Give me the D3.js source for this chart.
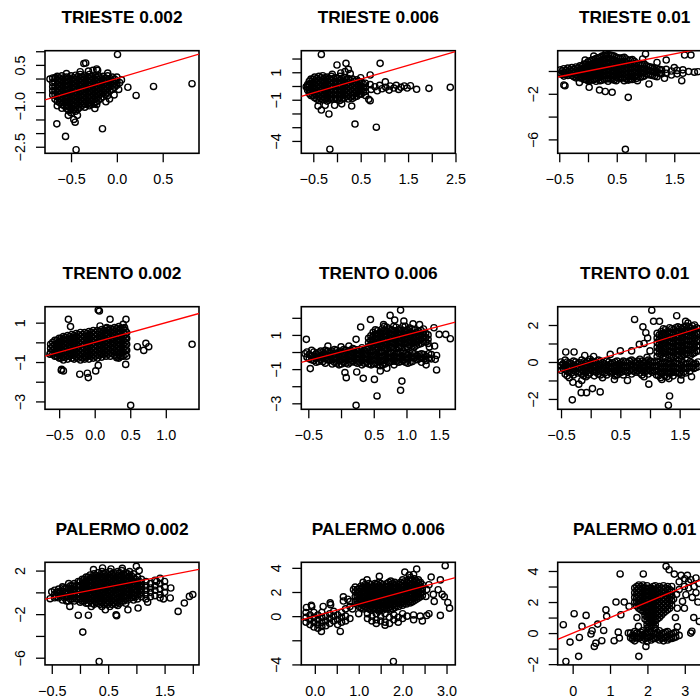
<!DOCTYPE html>
<html lang="en">
<head>
<meta charset="UTF-8">
<title>Scatter grid</title>
<script src="https://d3js.org/d3.v7.min.js"></script>
<style>
  body { margin: 0; background: #fff; }
  svg text { font-family: "Liberation Sans", Arial, Helvetica, sans-serif; fill: #000; }
</style>
</head>
<body>
<svg id="chart" width="700" height="698"></svg>
<script>
// panel titles, row by row
const titles = ["TRIESTE 0.002", "TRIESTE 0.006", "TRIESTE 0.01",
                "TRENTO 0.002", "TRENTO 0.006", "TRENTO 0.01",
                "PALERMO 0.002", "PALERMO 0.006", "PALERMO 0.01"];

// axis ranges
const xRanges = [[-0.784, 0.896], [-0.753, 2.496], [-0.527, 2.151],
                 [-0.699, 1.467], [-0.607, 1.746], [-0.556, 2.04],
                 [-0.62, 2.11], [-0.308, 3.20], [-0.40, 3.72]];
const yRanges = [[-2.74, 1.02], [-4.9, 2.57], [-7.22, 1.78],
                 [-3.40, 1.81], [-3.35, 2.65], [-2.56, 2.99],
                 [-6.66, 2.76], [-4.04, 4.46], [-2.05, 4.56]];

// ticks; "" = tick without a label
const xTicks = [[-0.5, 0, 0.5], [-0.5, 0, 0.5, 1, 1.5, 2, 2.5], [-0.5, 0, 0.5, 1, 1.5, 2],
                [-0.5, 0, 0.5, 1], [-0.5, 0, 0.5, 1, 1.5], [-0.5, 0, 0.5, 1, 1.5, 2],
                [-0.5, 0, 0.5, 1, 1.5, 2], [0, 0.5, 1, 1.5, 2, 2.5, 3], [0, 1, 2, 3]];
const xTickLabels = [["−0.5", "0.0", "0.5"], ["−0.5", "", "0.5", "", "1.5", "", "2.5"], ["−0.5", "", "0.5", "", "1.5", ""],
                     ["−0.5", "0.0", "0.5", "1.0"], ["−0.5", "", "0.5", "1.0", "1.5"], ["−0.5", "", "0.5", "", "1.5", ""],
                     ["−0.5", "", "0.5", "", "1.5", ""], ["0.0", "", "1.0", "", "2.0", "", "3.0"], ["0", "1", "2", "3"]];
const yTicks = [[1, 0.5, 0, -0.5, -1, -1.5, -2, -2.5], [2, 1, 0, -1, -2, -3, -4], [0, -2, -4, -6],
                [1, 0, -1, -2, -3], [2, 1, 0, -1, -2, -3], [2, 1, 0, -1, -2],
                [2, 0, -2, -4, -6], [4, 2, 0, -2, -4], [4, 3, 2, 1, 0, -1, -2]];
const yTickLabels = [["", "0.5", "", "", "−1.0", "", "", "−2.5"], ["", "1", "", "−1", "", "", "−4"], ["", "−2", "", "−6"],
                     ["1", "", "−1", "", "−3"], ["", "1", "", "−1", "", "−3"], ["2", "", "0", "", "−2"],
                     ["2", "", "−2", "", "−6"], ["4", "2", "0", "", "−4"], ["4", "", "2", "", "0", "", "−2"]];

// reference line y = a + b x
const ablineA = 0, ablineB = 1;

// points: dense parts as [x, [y...]] columns (two staggered sets), the rest as [x, y]
const trieste002Cols = [
  [-0.70, [0.02, -0.15, -0.3, -0.45, -0.6]],
  [-0.65, [0.08, -0.07, -0.22, -0.38, -0.52, -0.68, -0.83]],
  [-0.60, [0.1, -0.05, -0.2, -0.35, -0.5, -0.65, -0.8, -0.95]],
  [-0.55, [0.05, -0.1, -0.25, -0.4, -0.55, -0.7, -0.85, -1.0, -1.1]],
  [-0.50, [0.1, -0.05, -0.2, -0.35, -0.5, -0.65, -0.8, -0.95, -1.1, -1.25]],
  [-0.45, [0.12, -0.03, -0.18, -0.33, -0.48, -0.63, -0.78, -0.93, -1.08, -1.2]],
  [-0.40, [0.15, 0.0, -0.15, -0.3, -0.45, -0.6, -0.75, -0.9, -1.05]],
  [-0.35, [0.12, -0.03, -0.18, -0.33, -0.48, -0.63, -0.78, -0.93, -1.05]],
  [-0.30, [0.15, 0.0, -0.15, -0.3, -0.45, -0.6, -0.75, -0.9, -1.0]],
  [-0.25, [0.12, -0.03, -0.18, -0.33, -0.48, -0.63, -0.78, -0.93]],
  [-0.20, [0.1, -0.05, -0.2, -0.35, -0.5, -0.65, -0.8]],
  [-0.15, [0.08, -0.07, -0.22, -0.37, -0.52, -0.67]],
  [-0.10, [0.1, -0.05, -0.2, -0.35, -0.5, -0.62]],
  [-0.05, [0.05, -0.1, -0.25, -0.4]],
  [0.00, [0.05, -0.1, -0.25]]
];
const trieste002Fill = [
  [-0.675, [0.0, -0.15, -0.3, -0.45, -0.6, -0.75]],
  [-0.625, [0.02, -0.13, -0.28, -0.43, -0.58, -0.73, -0.88]],
  [-0.575, [0.03, -0.12, -0.27, -0.42, -0.57, -0.72, -0.87, -1.0]],
  [-0.525, [0.02, -0.13, -0.28, -0.43, -0.58, -0.73, -0.88, -1.03, -1.18]],
  [-0.475, [0.03, -0.12, -0.27, -0.42, -0.57, -0.72, -0.87, -1.02, -1.15]],
  [-0.425, [0.07, -0.08, -0.23, -0.38, -0.53, -0.68, -0.83, -0.98, -1.12]],
  [-0.375, [0.07, -0.08, -0.23, -0.38, -0.53, -0.68, -0.83, -0.98]],
  [-0.325, [0.07, -0.08, -0.23, -0.38, -0.53, -0.68, -0.83, -0.95]],
  [-0.275, [0.07, -0.08, -0.23, -0.38, -0.53, -0.68, -0.83, -0.95]],
  [-0.225, [0.05, -0.1, -0.25, -0.4, -0.55, -0.7, -0.85]],
  [-0.175, [0.03, -0.12, -0.27, -0.42, -0.57, -0.72]],
  [-0.125, [0.02, -0.13, -0.28, -0.43, -0.58]],
  [-0.075, [0.0, -0.15, -0.3, -0.45]],
  [-0.025, [-0.02, -0.17, -0.32]]
];
const trieste002Pts = [
  [0.007, 0.88], [-0.36, 0.55], [-0.34, 0.57], [-0.31, 0.27], [-0.22, 0.35], [-0.21, 0.3], [-0.26, 0.3],
  [-0.73, -0.02], [-0.67, 0.04], [0.12, -0.32], [0.21, -0.62], [0.40, -0.29], [0.82, -0.19],
  [-0.655, -1.66], [-0.56, -2.12], [-0.445, -2.61], [-0.157, -1.84], [-0.6, -1.09], [-0.455, -1.6],
  [-0.47, -1.5], [-0.43, -1.35], [-0.53, -1.35], [-0.24, -1.1], [-0.22, -0.95], [-0.12, -0.85],
  [-0.08, -0.75], [-0.03, -0.6], [0.02, -0.4], [0.03, -0.15], [0.05, -0.05], [-0.65, -1.0],
  [-0.1, 0.2], [-0.4, 0.25], [-0.55, 0.18]
];

const trieste006Cols = [
  [-0.62, [0.1, -0.1, -0.3]],
  [-0.55, [0.5, 0.2, -0.1, -0.4, -0.7]],
  [-0.47, [0.65, 0.35, 0.05, -0.25, -0.55, -0.85]],
  [-0.38, [0.7, 0.4, 0.1, -0.2, -0.5, -0.8, -1.05]],
  [-0.30, [0.75, 0.45, 0.15, -0.15, -0.45, -0.75, -1.0]],
  [-0.21, [0.65, 0.35, 0.05, -0.25, -0.55, -0.85, -1.1]],
  [-0.12, [0.7, 0.4, 0.1, -0.2, -0.5, -0.8, -1.0]],
  [-0.03, [0.6, 0.3, 0.0, -0.3, -0.6, -0.9]],
  [0.06, [0.7, 0.4, 0.1, -0.2, -0.5, -0.8, -1.05]],
  [0.15, [0.6, 0.3, 0.0, -0.3, -0.6, -0.9]],
  [0.24, [0.55, 0.25, -0.05, -0.35, -0.65, -0.95]],
  [0.33, [0.5, 0.2, -0.1, -0.4, -0.7, -0.9]],
  [0.42, [0.45, 0.15, -0.15, -0.45, -0.75]],
  [0.51, [0.3, 0.0, -0.3, -0.6]],
  [0.60, [0.2, -0.1, -0.4, -0.7]]
];
const trieste006Fill = [
  [-0.585, [0.35, 0.05, -0.25, -0.55]],
  [-0.51, [0.5, 0.2, -0.1, -0.4, -0.7]],
  [-0.425, [0.55, 0.25, -0.05, -0.35, -0.65, -0.95]],
  [-0.34, [0.6, 0.3, 0.0, -0.3, -0.6, -0.9]],
  [-0.255, [0.6, 0.3, 0.0, -0.3, -0.6, -0.9]],
  [-0.165, [0.55, 0.25, -0.05, -0.35, -0.65, -0.95]],
  [-0.075, [0.55, 0.25, -0.05, -0.35, -0.65, -0.95]],
  [0.015, [0.55, 0.25, -0.05, -0.35, -0.65, -0.95]],
  [0.105, [0.55, 0.25, -0.05, -0.35, -0.65, -0.95]],
  [0.195, [0.45, 0.15, -0.15, -0.45, -0.75]],
  [0.285, [0.4, 0.1, -0.2, -0.5, -0.8]],
  [0.375, [0.35, 0.05, -0.25, -0.55, -0.8]],
  [0.465, [0.3, 0.0, -0.3, -0.6]],
  [0.555, [0.15, -0.15, -0.45]]
];
const trieste006Pts = [
  [0.7, 0.1], [0.72, -0.25], [0.8, -0.05], [0.85, -0.35], [0.9, 0.05], [0.95, -0.2], [1.02, 0.3], [1.03, -0.1],
  [1.1, -0.3], [1.12, 0.0], [1.2, -0.15], [1.25, 0.05], [1.3, -0.25], [1.35, -0.1], [1.42, 0.0], [1.48, -0.15],
  [1.55, 0.02], [1.68, -0.24], [1.94, -0.17], [2.39, -0.1],
  [-0.33, 2.3], [0.0, 1.53], [0.19, 1.65], [0.24, 1.21], [0.91, 1.65], [0.7, 0.8], [0.17, 1.05], [0.08, 0.95],
  [-0.1, 0.85], [-0.4, -1.46], [-0.33, -1.75], [-0.17, -2.04], [-0.15, -4.6], [0.38, -2.77], [0.83, -3.0],
  [0.31, -1.46], [0.67, -0.97], [0.7, -1.07], [-0.05, -1.4], [0.1, -1.3], [-0.25, -1.4], [-0.65, -0.05],
  [0.5, 0.6], [0.28, 0.9]
];

const trieste01Cols = [
  [-0.48, [0.1, -0.25]],
  [-0.42, [0.2, -0.15, -0.45]],
  [-0.35, [0.25, -0.1, -0.4]],
  [-0.28, [0.3, -0.05, -0.4]],
  [-0.21, [0.35, 0.0, -0.35, -0.6]],
  [-0.14, [0.45, 0.1, -0.25, -0.6]],
  [-0.07, [0.6, 0.25, -0.1, -0.45, -0.75]],
  [0.00, [0.8, 0.45, 0.1, -0.25, -0.6, -0.85]],
  [0.07, [0.95, 0.6, 0.25, -0.1, -0.45, -0.8]],
  [0.14, [1.1, 0.75, 0.4, 0.05, -0.3, -0.65, -0.9]],
  [0.21, [1.2, 0.85, 0.5, 0.15, -0.2, -0.55, -0.85]],
  [0.28, [1.35, 1.0, 0.65, 0.3, -0.05, -0.4, -0.75]],
  [0.35, [1.45, 1.1, 0.75, 0.4, 0.05, -0.3, -0.65, -0.9]],
  [0.42, [1.35, 1.0, 0.65, 0.3, -0.05, -0.4, -0.75]],
  [0.49, [1.2, 0.85, 0.5, 0.15, -0.2, -0.55, -0.85]],
  [0.56, [1.1, 0.75, 0.4, 0.05, -0.3, -0.65]],
  [0.63, [1.2, 0.85, 0.5, 0.15, -0.2, -0.55, -0.85]],
  [0.70, [0.9, 0.55, 0.2, -0.15, -0.5, -0.8]],
  [0.77, [1.0, 0.6, 0.25, -0.1, -0.45, -0.75]],
  [0.84, [0.7, 0.35, 0.0, -0.35, -0.65]],
  [0.91, [0.5, 0.15, -0.2, -0.55]],
  [0.98, [0.6, 0.25, -0.1, -0.45]],
  [1.05, [0.4, 0.05, -0.3]],
  [1.12, [0.3, -0.05, -0.4]],
  [1.20, [0.2, -0.15, -0.5]],
  [1.28, [0.1, -0.25]],
  [1.36, [0.15, -0.2]],
  [1.45, [0.0, -0.35]],
  [1.55, [0.05, -0.25]],
  [1.65, [0.1, -0.2]],
  [1.75, [-0.05]]
];
const trieste01Fill = [
  [-0.45, [0.0, -0.3]],
  [-0.385, [0.05, -0.3]],
  [-0.315, [0.1, -0.25]],
  [-0.245, [0.15, -0.2, -0.5]],
  [-0.175, [0.25, -0.1, -0.45]],
  [-0.105, [0.4, 0.05, -0.3, -0.6]],
  [-0.035, [0.6, 0.25, -0.1, -0.45, -0.75]],
  [0.035, [0.9, 0.55, 0.2, -0.15, -0.5, -0.8]],
  [0.105, [1.0, 0.65, 0.3, -0.05, -0.4, -0.75]],
  [0.175, [1.15, 0.8, 0.45, 0.1, -0.25, -0.6]],
  [0.245, [1.3, 0.95, 0.6, 0.25, -0.1, -0.45, -0.8]],
  [0.315, [1.4, 1.05, 0.7, 0.35, 0.0, -0.35, -0.7]],
  [0.385, [1.4, 1.05, 0.7, 0.35, 0.0, -0.35, -0.7]],
  [0.455, [1.3, 0.95, 0.6, 0.25, -0.1, -0.45, -0.8]],
  [0.525, [1.15, 0.8, 0.45, 0.1, -0.25, -0.6]],
  [0.595, [1.15, 0.8, 0.45, 0.1, -0.25, -0.6]],
  [0.665, [1.05, 0.7, 0.35, 0.0, -0.35, -0.7]],
  [0.735, [0.95, 0.6, 0.25, -0.1, -0.45, -0.75]],
  [0.805, [0.85, 0.5, 0.15, -0.2, -0.55]],
  [0.875, [0.6, 0.25, -0.1, -0.45]],
  [0.945, [0.55, 0.2, -0.15, -0.5]],
  [1.015, [0.45, 0.1, -0.25]],
  [1.085, [0.35, 0.0, -0.35]],
  [1.16, [0.25, -0.1, -0.45]],
  [1.24, [0.15, -0.2]]
];
const trieste01Pts = [
  [-0.42, -1.23], [-0.40, -1.3], [0.31, 1.55], [1.0, 1.5], [1.36, 0.96], [1.68, 1.4], [1.79, 1.4],
  [0.02, -1.43], [0.2, -1.67], [0.3, -1.8], [0.42, -1.87], [0.70, -2.31], [0.65, -6.87], [-0.15, -1.0],
  [0.86, -0.85], [1.06, -1.14], [1.33, -0.64], [1.63, -0.85], [1.91, -0.06], [1.2, 0.75], [0.95, 1.05],
  [-0.05, 0.95], [0.1, 1.3], [1.5, 0.3], [1.85, -0.1]
];

const trento002Cols = [
  [-0.62, [-0.1, -0.3, -0.5]],
  [-0.56, [0.1, -0.1, -0.3, -0.5, -0.7]],
  [-0.50, [0.2, 0.0, -0.2, -0.4, -0.6, -0.8]],
  [-0.44, [0.3, 0.1, -0.1, -0.3, -0.5, -0.7, -0.9]],
  [-0.38, [0.35, 0.15, -0.05, -0.25, -0.45, -0.65, -0.85]],
  [-0.32, [0.4, 0.2, 0.0, -0.2, -0.4, -0.6, -0.8]],
  [-0.26, [0.45, 0.25, 0.05, -0.15, -0.35, -0.55, -0.75]],
  [-0.20, [0.5, 0.3, 0.1, -0.1, -0.3, -0.5, -0.7, -0.9]],
  [-0.14, [0.5, 0.3, 0.1, -0.1, -0.3, -0.5, -0.7, -0.85]],
  [-0.08, [0.55, 0.35, 0.15, -0.05, -0.25, -0.45, -0.65, -0.85]],
  [-0.02, [0.6, 0.4, 0.2, 0.0, -0.2, -0.4, -0.6, -0.8]],
  [0.04, [0.6, 0.4, 0.2, 0.0, -0.2, -0.4, -0.6, -0.8]],
  [0.10, [0.65, 0.45, 0.25, 0.05, -0.15, -0.35, -0.55, -0.75]],
  [0.16, [0.7, 0.5, 0.3, 0.1, -0.1, -0.3, -0.5, -0.7]],
  [0.22, [0.7, 0.5, 0.3, 0.1, -0.1, -0.3, -0.5, -0.7]],
  [0.28, [0.75, 0.55, 0.35, 0.15, -0.05, -0.25, -0.45, -0.65]],
  [0.34, [0.8, 0.6, 0.4, 0.2, 0.0, -0.2, -0.4, -0.6, -0.8]],
  [0.40, [0.7, 0.5, 0.3, 0.1, -0.1, -0.3, -0.5, -0.7]],
  [0.45, [0.5, 0.2, -0.1, -0.4, -0.7]]
];
const trento002Fill = [
  [-0.59, [0.0, -0.2, -0.4, -0.6]],
  [-0.53, [0.1, -0.1, -0.3, -0.5, -0.7]],
  [-0.47, [0.2, 0.0, -0.2, -0.4, -0.6, -0.8]],
  [-0.41, [0.25, 0.05, -0.15, -0.35, -0.55, -0.75]],
  [-0.35, [0.3, 0.1, -0.1, -0.3, -0.5, -0.7]],
  [-0.29, [0.35, 0.15, -0.05, -0.25, -0.45, -0.65, -0.85]],
  [-0.23, [0.4, 0.2, 0.0, -0.2, -0.4, -0.6, -0.8]],
  [-0.17, [0.4, 0.2, 0.0, -0.2, -0.4, -0.6, -0.8]],
  [-0.11, [0.45, 0.25, 0.05, -0.15, -0.35, -0.55, -0.75]],
  [-0.05, [0.5, 0.3, 0.1, -0.1, -0.3, -0.5, -0.7]],
  [0.01, [0.5, 0.3, 0.1, -0.1, -0.3, -0.5, -0.7]],
  [0.07, [0.55, 0.35, 0.15, -0.05, -0.25, -0.45, -0.65]],
  [0.13, [0.6, 0.4, 0.2, 0.0, -0.2, -0.4, -0.6]],
  [0.19, [0.6, 0.4, 0.2, 0.0, -0.2, -0.4, -0.6]],
  [0.25, [0.65, 0.45, 0.25, 0.05, -0.15, -0.35, -0.55]],
  [0.31, [0.7, 0.5, 0.3, 0.1, -0.1, -0.3, -0.5, -0.7]],
  [0.37, [0.7, 0.5, 0.3, 0.1, -0.1, -0.3, -0.5, -0.7]],
  [0.43, [0.6, 0.4, 0.2, 0.0, -0.2, -0.4, -0.6]]
];
const trento002Pts = [
  [0.05, 1.64], [0.066, 1.59], [-0.37, 1.17], [-0.34, 0.8], [0.216, 1.17], [0.075, 0.83], [0.17, 0.75],
  [0.19, 0.63], [0.44, 1.17], [0.4, 0.91], [0.42, 0.75], [0.6, -0.22], [0.72, -0.05], [0.69, -0.41],
  [0.76, -0.22], [1.37, -0.1], [-0.465, -1.37], [-0.44, -1.45], [-0.47, -1.42], [-0.21, -1.62],
  [-0.103, -1.57], [-0.09, -1.79], [0.014, -1.45], [0.05, -1.17], [0.436, -1.12], [0.506, -3.2],
  [-0.63, -0.6], [0.31, -0.78], [0.36, -0.7]
];

const trento006Cols = [
  [-0.52, [0.0, -0.3]],
  [-0.45, [0.1, -0.2, -0.45]],
  [-0.38, [-0.1, -0.35, -0.6]],
  [-0.31, [0.05, -0.2, -0.45]],
  [-0.24, [0.1, -0.15, -0.4, -0.65]],
  [-0.17, [0.0, -0.25, -0.5]],
  [-0.10, [0.15, -0.1, -0.35, -0.6]],
  [-0.03, [0.0, -0.25, -0.5, -0.75]],
  [0.04, [0.15, -0.1, -0.35, -0.6]],
  [0.11, [0.05, -0.2, -0.45, -0.7]],
  [0.18, [0.2, -0.05, -0.3, -0.55]],
  [0.25, [0.1, -0.15, -0.4, -0.65]],
  [0.32, [0.25, 0.0, -0.25, -0.5, -0.75]],
  [0.39, [0.15, -0.1, -0.35, -0.6]],
  [0.46, [0.0, -0.25, -0.5, -0.75]],
  [0.53, [0.1, -0.15, -0.4, -0.65]],
  [0.60, [-0.05, -0.3, -0.55, -0.8]],
  [0.67, [0.05, -0.2, -0.45, -0.7]],
  [0.74, [-0.1, -0.35, -0.6]],
  [0.81, [0.0, -0.25, -0.5, -0.75]],
  [0.88, [-0.1, -0.35, -0.6]],
  [0.95, [0.0, -0.25, -0.5]],
  [1.02, [-0.15, -0.4, -0.65]],
  [1.09, [-0.05, -0.3, -0.55]],
  [1.16, [-0.2, -0.45]],
  [1.23, [-0.1, -0.35, -0.6]],
  [1.30, [-0.25, -0.5]],
  [1.38, [-0.15, -0.4]],
  [0.42, [0.3, 0.55, 0.8]],
  [0.49, [0.4, 0.65, 0.9, 1.15]],
  [0.56, [0.25, 0.5, 0.75, 1.0, 1.25]],
  [0.63, [0.35, 0.6, 0.85, 1.1, 1.35]],
  [0.70, [0.2, 0.45, 0.7, 0.95, 1.2, 1.45]],
  [0.77, [0.3, 0.55, 0.8, 1.05, 1.3]],
  [0.84, [0.2, 0.45, 0.7, 0.95, 1.2, 1.45]],
  [0.91, [0.35, 0.6, 0.85, 1.1, 1.35]],
  [0.98, [0.25, 0.5, 0.75, 1.0, 1.25, 1.5]],
  [1.05, [0.4, 0.65, 0.9, 1.15, 1.4]],
  [1.12, [0.3, 0.55, 0.8, 1.05, 1.3]],
  [1.19, [0.45, 0.7, 0.95, 1.2]],
  [1.26, [0.6, 0.85, 1.1, 1.35]],
  [1.33, [0.5, 0.75, 1.0]]
];
const trento006Fill = [
  [-0.485, [-0.15, -0.4]],
  [-0.415, [0.0, -0.25, -0.5]],
  [-0.345, [-0.05, -0.3, -0.55]],
  [-0.275, [0.0, -0.3, -0.55]],
  [-0.205, [0.05, -0.2, -0.45]],
  [-0.135, [0.05, -0.2, -0.45, -0.7]],
  [-0.065, [0.1, -0.15, -0.4, -0.65]],
  [0.005, [0.05, -0.2, -0.45, -0.7]],
  [0.075, [0.1, -0.15, -0.4, -0.65]],
  [0.145, [0.1, -0.15, -0.4, -0.6]],
  [0.215, [0.15, -0.1, -0.35, -0.6]],
  [0.285, [0.15, -0.1, -0.35, -0.6]],
  [0.355, [0.1, -0.15, -0.4, -0.65]],
  [0.425, [0.05, -0.2, -0.45, -0.7]],
  [0.495, [0.05, -0.2, -0.45, -0.7]],
  [0.565, [0.0, -0.25, -0.5, -0.75]],
  [0.635, [0.0, -0.25, -0.5, -0.75]],
  [0.705, [-0.05, -0.3, -0.55]],
  [0.775, [-0.05, -0.3, -0.55]],
  [0.845, [-0.05, -0.3, -0.55]],
  [0.915, [-0.05, -0.3, -0.55]],
  [0.985, [-0.1, -0.35, -0.6]],
  [1.055, [-0.1, -0.35, -0.6]],
  [1.125, [-0.1, -0.35]],
  [1.195, [-0.15, -0.4]],
  [1.265, [-0.15, -0.4]],
  [1.34, [-0.1, -0.35]],
  [0.455, [0.45, 0.7, 0.95]],
  [0.525, [0.3, 0.55, 0.8, 1.05, 1.3]],
  [0.595, [0.4, 0.65, 0.9, 1.15]],
  [0.665, [0.25, 0.5, 0.75, 1.0, 1.25, 1.5]],
  [0.735, [0.35, 0.6, 0.85, 1.1, 1.35]],
  [0.805, [0.25, 0.5, 0.75, 1.0, 1.25, 1.5]],
  [0.875, [0.3, 0.55, 0.8, 1.05, 1.3]],
  [0.945, [0.25, 0.5, 0.75, 1.0, 1.25, 1.5]],
  [1.015, [0.3, 0.55, 0.8, 1.05, 1.3]],
  [1.085, [0.35, 0.6, 0.85, 1.1, 1.35]],
  [1.155, [0.4, 0.65, 0.9, 1.15]],
  [1.225, [0.5, 0.75, 1.0, 1.25]],
  [1.295, [0.6, 0.85, 1.1]]
];
const trento006Pts = [
  [-0.53, 0.74], [-0.47, -0.97], [-0.55, -0.1], [0.06, -1.2], [0.08, -1.5], [0.24, -1.17], [0.34, -1.54],
  [0.23, -3.12], [0.23, 0.74], [0.3, 1.46], [0.45, 1.9], [0.75, 2.14], [0.91, 2.45], [0.82, 1.87], [0.96, 1.81],
  [0.51, -1.6], [0.55, -2.57], [0.93, -1.7], [0.91, -2.24], [0.6, -1.11], [0.7, -0.95], [1.42, 1.42],
  [1.5, 1.03], [1.6, 1.03], [1.67, 0.78], [1.43, 0.35], [1.46, -0.2], [1.44, -0.43], [1.46, -1.05],
  [1.2, 1.6], [1.1, 1.65], [0.65, 1.6], [0.0, 0.3], [-0.2, 0.35], [0.12, 0.35], [1.35, 0.3], [1.3, -0.75]
];

const trento01Cols = [
  [-0.50, [0.0, -0.2, -0.45]],
  [-0.43, [0.1, -0.15, -0.4, -0.65]],
  [-0.36, [-0.05, -0.3, -0.55, -0.85]],
  [-0.29, [0.05, -0.2, -0.45, -0.7]],
  [-0.22, [-0.1, -0.35, -0.6]],
  [-0.15, [0.1, -0.15, -0.4, -0.65, -1.0]],
  [-0.08, [-0.05, -0.3, -0.55, -0.8]],
  [-0.01, [0.15, -0.1, -0.35, -0.6]],
  [0.06, [0.0, -0.25, -0.5, -0.75]],
  [0.13, [0.1, -0.15, -0.4, -0.65]],
  [0.20, [-0.05, -0.3, -0.55, -0.85]],
  [0.27, [0.05, -0.2, -0.45, -0.7]],
  [0.34, [-0.1, -0.35, -0.6]],
  [0.41, [0.0, -0.25, -0.5, -0.75]],
  [0.48, [-0.1, -0.35, -0.6]],
  [0.55, [0.05, -0.2, -0.45, -0.7]],
  [0.62, [-0.05, -0.3, -0.55]],
  [0.69, [0.1, -0.15, -0.4, -0.65]],
  [0.76, [-0.05, -0.3, -0.55]],
  [0.83, [0.15, -0.1, -0.35, -0.6]],
  [0.90, [-0.05, -0.3, -0.55, -0.8]],
  [0.97, [0.1, -0.15, -0.4, -0.65]],
  [1.04, [-0.05, -0.3, -0.55]],
  [1.11, [0.05, -0.2, -0.45, -0.7]],
  [1.18, [-0.1, -0.35, -0.6, -0.85]],
  [1.25, [0.0, -0.25, -0.5, -0.75]],
  [1.32, [-0.1, -0.35, -0.6, -0.9]],
  [1.39, [0.0, -0.25, -0.5, -0.75]],
  [1.46, [-0.1, -0.35, -0.6]],
  [1.53, [0.05, -0.2, -0.45, -0.7]],
  [1.60, [-0.1, -0.35, -0.6]],
  [1.67, [0.0, -0.25, -0.5]],
  [1.74, [-0.1, -0.35]],
  [1.81, [0.0, -0.25]],
  [1.12, [0.3, 0.55, 0.8, 1.05, 1.3, 1.55]],
  [1.19, [0.4, 0.65, 0.9, 1.15, 1.4, 1.65]],
  [1.26, [0.25, 0.5, 0.75, 1.0, 1.25, 1.5, 1.75]],
  [1.33, [0.35, 0.6, 0.85, 1.1, 1.35, 1.6, 1.85]],
  [1.40, [0.25, 0.5, 0.75, 1.0, 1.25, 1.5, 1.75]],
  [1.47, [0.4, 0.65, 0.9, 1.15, 1.4, 1.65, 1.9]],
  [1.54, [0.3, 0.55, 0.8, 1.05, 1.3, 1.55, 1.8]],
  [1.61, [0.45, 0.7, 0.95, 1.2, 1.45, 1.7, 1.95]],
  [1.68, [0.35, 0.6, 0.85, 1.1, 1.35, 1.6, 1.85]],
  [1.75, [0.5, 0.75, 1.0, 1.25, 1.5, 1.75, 2.0]],
  [1.82, [0.6, 0.9, 1.2, 1.5, 1.8]]
];
const trento01Fill = [
  [-0.465, [-0.1, -0.35]],
  [-0.395, [0.0, -0.25, -0.5, -0.75]],
  [-0.325, [-0.1, -0.35, -0.6]],
  [-0.255, [0.0, -0.25, -0.5]],
  [-0.185, [-0.05, -0.3, -0.55]],
  [-0.115, [0.0, -0.25, -0.5, -0.75]],
  [-0.045, [0.05, -0.2, -0.45, -0.7]],
  [0.025, [0.05, -0.2, -0.45]],
  [0.095, [-0.05, -0.3, -0.55]],
  [0.165, [0.05, -0.2, -0.45, -0.7]],
  [0.235, [-0.1, -0.35, -0.6]],
  [0.305, [0.0, -0.25, -0.5]],
  [0.375, [-0.05, -0.3, -0.55]],
  [0.445, [0.05, -0.2, -0.45, -0.7]],
  [0.515, [-0.05, -0.3, -0.55]],
  [0.585, [0.0, -0.25, -0.5]],
  [0.655, [0.05, -0.2, -0.45]],
  [0.725, [0.0, -0.25, -0.5]],
  [0.795, [0.05, -0.2, -0.45]],
  [0.865, [0.05, -0.2, -0.45, -0.7]],
  [0.935, [0.0, -0.25, -0.5]],
  [1.005, [0.05, -0.2, -0.45]],
  [1.075, [0.0, -0.25, -0.5]],
  [1.145, [0.0, -0.25, -0.5, -0.75]],
  [1.215, [-0.1, -0.35, -0.6]],
  [1.285, [-0.05, -0.3, -0.55, -0.8]],
  [1.355, [-0.1, -0.35, -0.6]],
  [1.425, [-0.05, -0.3, -0.55]],
  [1.495, [-0.1, -0.35, -0.6]],
  [1.565, [-0.05, -0.3, -0.55]],
  [1.635, [-0.1, -0.35]],
  [1.705, [-0.05, -0.3]],
  [1.775, [-0.1, -0.3]],
  [1.155, [0.45, 0.7, 0.95, 1.2, 1.45]],
  [1.225, [0.3, 0.55, 0.8, 1.05, 1.3, 1.55, 1.8]],
  [1.295, [0.4, 0.65, 0.9, 1.15, 1.4, 1.65]],
  [1.365, [0.3, 0.55, 0.8, 1.05, 1.3, 1.55, 1.8]],
  [1.435, [0.35, 0.6, 0.85, 1.1, 1.35, 1.6, 1.85]],
  [1.505, [0.35, 0.6, 0.85, 1.1, 1.35, 1.6, 1.85]],
  [1.575, [0.4, 0.65, 0.9, 1.15, 1.4, 1.65, 1.9]],
  [1.645, [0.4, 0.65, 0.9, 1.15, 1.4, 1.65, 1.9]],
  [1.715, [0.45, 0.7, 0.95, 1.2, 1.45, 1.7, 1.95]],
  [1.785, [0.6, 0.85, 1.1, 1.35, 1.6, 1.85]]
];
const trento01Pts = [
  [-0.42, 0.54], [-0.28, 0.54], [-0.31, -2.05], [-0.16, -1.66], [-0.07, -1.66], [-0.2, -1.2], [0.03, -1.44],
  [0.16, -1.62], [-0.1, 0.35], [0.05, 0.3], [0.33, 0.41], [0.5, 0.6], [0.74, 2.3], [0.88, 1.9], [0.93, 1.58],
  [0.96, 1.3], [0.82, 0.95], [0.69, 0.6], [1.03, 2.8], [1.06, 2.2], [1.16, 2.2], [1.45, 2.5], [1.6, 2.2],
  [1.64, 2.1], [0.98, -1.2], [1.33, -1.84], [1.31, -2.34], [1.52, -0.97], [1.2, -0.95], [0.9, 1.0],
  [1.0, 0.6], [0.95, 0.25], [0.62, -1.0], [0.4, -0.95], [-0.3, -1.1], [1.7, -0.8]
];

const palermo002Cols = [
  [-0.45, [0.2, -0.2, -0.5]],
  [-0.38, [0.3, -0.1, -0.5]],
  [-0.31, [0.5, 0.1, -0.3, -0.7]],
  [-0.24, [0.4, 0.0, -0.4, -0.8]],
  [-0.17, [0.6, 0.2, -0.2, -0.6]],
  [-0.10, [0.8, 0.4, 0.0, -0.4, -0.8]],
  [-0.03, [1.0, 0.6, 0.2, -0.2, -0.6]],
  [0.04, [1.2, 0.8, 0.4, 0.0, -0.4, -0.8]],
  [0.11, [1.4, 1.0, 0.6, 0.2, -0.2, -0.6, -1.0]],
  [0.18, [1.6, 1.2, 0.8, 0.4, 0.0, -0.4, -0.8]],
  [0.25, [1.7, 1.3, 0.9, 0.5, 0.1, -0.3, -0.7, -1.1]],
  [0.32, [1.8, 1.4, 1.0, 0.6, 0.2, -0.2, -0.6, -1.0]],
  [0.39, [1.9, 1.5, 1.1, 0.7, 0.3, -0.1, -0.5, -0.9, -1.3]],
  [0.46, [1.8, 1.4, 1.0, 0.6, 0.2, -0.2, -0.6, -1.0]],
  [0.53, [1.9, 1.5, 1.1, 0.7, 0.3, -0.1, -0.5, -0.9, -1.3]],
  [0.60, [1.8, 1.4, 1.0, 0.6, 0.2, -0.2, -0.6, -1.0]],
  [0.67, [1.9, 1.5, 1.1, 0.7, 0.3, -0.1, -0.5, -0.9, -1.2]],
  [0.74, [2.0, 1.6, 1.2, 0.8, 0.4, 0.0, -0.4, -0.8]],
  [0.81, [1.8, 1.4, 1.0, 0.6, 0.2, -0.2, -0.6, -1.0]],
  [0.88, [1.9, 1.5, 1.1, 0.7, 0.3, -0.1, -0.5]],
  [0.95, [1.7, 1.3, 0.9, 0.5, 0.1, -0.3, -0.7]],
  [1.02, [1.4, 1.0, 0.6, 0.2, -0.2, -0.6]],
  [1.09, [1.2, 0.8, 0.4, 0.0, -0.4]],
  [1.17, [1.0, 0.6, 0.2, -0.2, -0.6]],
  [1.25, [0.8, 0.4, 0.0, -0.4]],
  [1.33, [1.1, 0.6, 0.2, -0.3]],
  [1.42, [1.3, 0.8, 0.3, -0.2, -0.5]],
  [1.50, [1.0, 0.5, 0.0]]
];
const palermo002Fill = [
  [-0.415, [0.0, -0.4]],
  [-0.345, [0.1, -0.3]],
  [-0.275, [0.3, -0.1, -0.5]],
  [-0.205, [0.4, 0.0, -0.4, -0.8]],
  [-0.135, [0.6, 0.2, -0.2, -0.6]],
  [-0.065, [0.6, 0.2, -0.2, -0.6]],
  [0.005, [1.0, 0.6, 0.2, -0.2, -0.6, -0.9]],
  [0.075, [1.2, 0.8, 0.4, 0.0, -0.4, -0.8]],
  [0.145, [1.4, 1.0, 0.6, 0.2, -0.2, -0.6, -1.0]],
  [0.215, [1.4, 1.0, 0.6, 0.2, -0.2, -0.6, -1.0]],
  [0.285, [1.5, 1.1, 0.7, 0.3, -0.1, -0.5, -0.9]],
  [0.355, [1.6, 1.2, 0.8, 0.4, 0.0, -0.4, -0.8, -1.1]],
  [0.425, [1.7, 1.3, 0.9, 0.5, 0.1, -0.3, -0.7, -1.1]],
  [0.495, [1.6, 1.2, 0.8, 0.4, 0.0, -0.4, -0.8, -1.1]],
  [0.565, [1.7, 1.3, 0.9, 0.5, 0.1, -0.3, -0.7, -1.1]],
  [0.635, [1.6, 1.2, 0.8, 0.4, 0.0, -0.4, -0.8, -1.1]],
  [0.705, [1.8, 1.4, 1.0, 0.6, 0.2, -0.2, -0.6, -1.0]],
  [0.775, [1.6, 1.2, 0.8, 0.4, 0.0, -0.4, -0.8]],
  [0.845, [1.7, 1.3, 0.9, 0.5, 0.1, -0.3, -0.7]],
  [0.915, [1.5, 1.1, 0.7, 0.3, -0.1, -0.5]],
  [0.985, [1.2, 0.8, 0.4, 0.0, -0.4]],
  [1.055, [1.0, 0.6, 0.2, -0.2]]
];
const palermo002Pts = [
  [-0.53, -0.58], [-0.18, -1.29], [-0.03, -2.1], [0.15, -2.1], [0.05, -3.65], [0.34, -6.35], [0.64, -2.06],
  [0.65, -2.15], [0.85, -1.6], [1.03, -1.44], [1.74, -1.75], [1.85, -0.98], [1.94, -0.37], [2.0, -0.2],
  [1.61, 0.4], [1.6, -0.52], [1.36, 1.0], [1.0, 2.39], [1.05, 2.0], [0.24, 2.09], [0.4, 2.24], [0.75, 2.2],
  [0.55, 2.15], [-0.3, 0.4], [-0.5, 0.05], [-0.2, 0.8], [1.48, -0.6], [1.2, -0.9], [0.2, -1.3], [0.45, -1.6]
];

const palermo006Cols = [
  [-0.20, [0.3, -0.1, -0.5]],
  [-0.11, [0.1, -0.3, -0.7]],
  [-0.02, [0.3, -0.1, -0.5, -0.9]],
  [0.07, [0.1, -0.3, -0.7, -1.0]],
  [0.16, [0.3, -0.1, -0.5, -0.85]],
  [0.25, [0.0, -0.4, -0.8]],
  [0.34, [0.2, -0.2, -0.6]],
  [0.43, [0.4, 0.0, -0.4]],
  [0.52, [0.1, -0.3, -0.7]],
  [0.61, [0.3, -0.1, -0.5]],
  [0.70, [0.6, 0.0, -0.4]],
  [0.80, [1.2, 0.8, -0.2]],
  [0.92, [1.2, 1.6, 2.0, 2.4]],
  [1.01, [0.8, 1.1, 1.4, 1.7, 2.0, 2.3]],
  [1.10, [0.6, 0.9, 1.2, 1.5, 1.8, 2.1, 2.4, 2.8]],
  [1.19, [0.7, 1.0, 1.3, 1.6, 1.9, 2.2, 2.5, 3.0]],
  [1.28, [0.5, 0.8, 1.1, 1.4, 1.7, 2.0, 2.3, 2.6]],
  [1.37, [0.6, 0.9, 1.2, 1.5, 1.8, 2.1, 2.4, 2.7]],
  [1.46, [0.4, 0.7, 1.0, 1.3, 1.6, 1.9, 2.2, 2.5, 2.8]],
  [1.55, [0.5, 0.8, 1.1, 1.4, 1.7, 2.0, 2.3, 2.6]],
  [1.64, [0.6, 0.9, 1.2, 1.5, 1.8, 2.1, 2.4, 2.7]],
  [1.73, [0.5, 0.8, 1.1, 1.4, 1.7, 2.0, 2.3, 2.6, 2.9]],
  [1.82, [0.7, 1.0, 1.3, 1.6, 1.9, 2.2, 2.5, 2.8]],
  [1.91, [0.8, 1.1, 1.4, 1.7, 2.0, 2.3, 2.6]],
  [2.00, [0.9, 1.2, 1.5, 1.8, 2.1, 2.4, 2.7, 3.0]],
  [2.09, [1.0, 1.3, 1.6, 1.9, 2.2, 2.5, 2.8]],
  [2.18, [1.1, 1.4, 1.7, 2.0, 2.3, 2.6, 2.9, 3.2]],
  [2.27, [1.3, 1.6, 1.9, 2.2, 2.5, 2.8, 3.1]],
  [2.36, [1.5, 1.8, 2.1, 2.4, 2.7, 3.0]],
  [2.45, [1.7, 2.0, 2.3, 2.6]],
  [1.20, [0.2, -0.2]], [1.30, [0.0, -0.4]], [1.40, [0.2, -0.3, -0.6]], [1.50, [0.0, -0.4]],
  [1.60, [0.2, -0.5, -0.75]], [1.70, [-0.1, -0.6]], [1.80, [0.1, -0.3]], [1.90, [-0.1, -0.5]],
  [2.00, [0.2, -0.2]], [2.10, [0.0]], [2.25, [0.1, -0.3]], [2.40, [0.0]]
];
const palermo006Fill = [
  [0.965, [1.0, 1.3, 1.6, 1.9, 2.2]],
  [1.055, [0.7, 1.0, 1.3, 1.6, 1.9, 2.2, 2.5]],
  [1.145, [0.75, 1.05, 1.35, 1.65, 1.95, 2.25, 2.6]],
  [1.235, [0.6, 0.9, 1.2, 1.5, 1.8, 2.1, 2.4, 2.7]],
  [1.325, [0.65, 0.95, 1.25, 1.55, 1.85, 2.15, 2.45]],
  [1.415, [0.55, 0.85, 1.15, 1.45, 1.75, 2.05, 2.35, 2.65]],
  [1.505, [0.6, 0.9, 1.2, 1.5, 1.8, 2.1, 2.4, 2.7]],
  [1.595, [0.65, 0.95, 1.25, 1.55, 1.85, 2.15, 2.45]],
  [1.685, [0.7, 1.0, 1.3, 1.6, 1.9, 2.2, 2.5, 2.8]],
  [1.775, [0.6, 0.9, 1.2, 1.5, 1.8, 2.1, 2.4, 2.7]],
  [1.865, [0.85, 1.15, 1.45, 1.75, 2.05, 2.35, 2.65]],
  [1.955, [1.0, 1.3, 1.6, 1.9, 2.2, 2.5, 2.8]],
  [2.045, [1.05, 1.35, 1.65, 1.95, 2.25, 2.55, 2.85]],
  [2.135, [1.2, 1.5, 1.8, 2.1, 2.4, 2.7, 3.0]],
  [2.225, [1.2, 1.5, 1.8, 2.1, 2.4, 2.7, 3.0]],
  [2.315, [1.4, 1.7, 2.0, 2.3, 2.6, 2.9]],
  [2.405, [1.6, 1.9, 2.2, 2.5, 2.8]]
];
const palermo006Pts = [
  [-0.19, 0.72], [-0.08, 0.9], [-0.07, 0.8], [0.19, 0.8], [0.35, 1.1], [0.36, 0.95], [0.65, 1.6], [0.65, 1.25],
  [0.86, 0.6], [0.15, -1.27], [0.58, -1.27], [1.47, 3.3], [2.05, 3.65], [2.32, 3.9], [2.15, 3.4], [2.25, 3.45],
  [2.65, 3.24], [2.86, 3.0], [0.88, 2.2], [2.97, 4.18], [2.53, 1.63], [2.72, 1.22], [2.81, 2.19], [2.9, 1.8],
  [3.07, 0.66], [3.03, 1.13], [2.86, 0.06], [2.55, 0.05], [2.6, 0.2], [2.45, -0.4], [1.79, -3.76], [2.6, 2.6],
  [2.7, 1.8], [2.55, 2.2], [2.95, 1.6], [0.75, 1.4], [1.0, 0.2]
];

const palermo01Cols = [
  [1.66, [2.0, 2.3, 2.6, 2.9]],
  [1.77, [1.6, 1.85, 2.1, 2.35, 2.6, 2.85, 3.1]],
  [1.88, [1.4, 1.65, 1.9, 2.15, 2.4, 2.65, 2.9, 3.1]],
  [1.99, [0.3, 0.55, 0.8, 1.05, 1.3, 1.55, 1.8, 2.05, 2.3, 2.55, 2.8, 3.05]],
  [2.10, [0.4, 0.65, 0.9, 1.15, 1.4, 1.65, 1.9, 2.15, 2.4, 2.65, 2.9]],
  [2.21, [0.3, 0.55, 0.8, 1.05, 1.3, 1.55, 1.8, 2.05, 2.3, 2.55, 2.8, 3.05]],
  [2.32, [1.0, 1.25, 1.5, 1.75, 2.0, 2.25, 2.5, 2.75, 3.0]],
  [2.43, [1.3, 1.55, 1.8, 2.05, 2.3, 2.55, 2.8, 3.05]],
  [2.54, [1.5, 1.75, 2.0, 2.25, 2.5, 2.75, 3.0]],
  [2.65, [1.8, 2.1, 2.4, 2.7, 3.0]],
  [1.55, [0.0, -0.3]], [1.66, [0.1, -0.2, -0.5]], [1.77, [-0.05, -0.35]], [1.88, [0.15, -0.15, -0.45]],
  [1.99, [0.0, -0.3, -0.55]], [2.10, [0.1, -0.2, -0.45]], [2.21, [-0.05, -0.35]], [2.32, [0.15, -0.15, -0.45]],
  [2.43, [0.0, -0.3, -0.5]], [2.54, [0.1, -0.2, -0.45]], [2.65, [-0.05, -0.35]], [2.76, [0.05, -0.25]]
];
const palermo01Fill = [
  [1.715, [1.75, 2.0, 2.25, 2.5, 2.75, 3.0]],
  [1.825, [1.5, 1.75, 2.0, 2.25, 2.5, 2.75, 3.0]],
  [1.935, [0.9, 1.15, 1.4, 1.65, 1.9, 2.15, 2.4, 2.65, 2.9]],
  [2.045, [0.4, 0.65, 0.9, 1.15, 1.4, 1.65, 1.9, 2.15, 2.4, 2.65, 2.9]],
  [2.155, [0.5, 0.75, 1.0, 1.25, 1.5, 1.75, 2.0, 2.25, 2.5, 2.75, 3.0]],
  [2.265, [0.9, 1.15, 1.4, 1.65, 1.9, 2.15, 2.4, 2.65, 2.9]],
  [2.375, [1.15, 1.4, 1.65, 1.9, 2.15, 2.4, 2.65, 2.9]],
  [2.485, [1.4, 1.65, 1.9, 2.15, 2.4, 2.65, 2.9]],
  [2.595, [1.6, 1.9, 2.2, 2.5, 2.8]],
  [1.605, [-0.15, -0.4]], [1.715, [0.0, -0.3]], [1.825, [0.05, -0.25]], [1.935, [-0.05, -0.35]],
  [2.045, [0.05, -0.25]], [2.155, [-0.05, -0.35]], [2.265, [0.05, -0.25]], [2.375, [-0.05, -0.35]],
  [2.485, [0.05, -0.25]], [2.595, [-0.1, -0.35]], [2.705, [0.0, -0.3]]
];
const palermo01Pts = [
  [-0.25, 0.54], [-0.18, -1.83], [-0.07, -0.58], [0.04, 1.25], [0.18, -0.28], [0.25, 0.43], [0.36, 1.14],
  [0.49, -0.06], [0.52, 0.15], [0.58, -0.86], [0.62, -0.65], [0.67, 0.58], [0.78, -0.49], [0.83, 0.17],
  [0.89, 1.5], [0.91, 1.08], [1.11, -0.49], [1.16, 2.0], [1.22, 0.06], [1.25, -0.32], [1.27, 3.81],
  [1.29, 1.18], [1.38, 2.0], [0.16, -1.5], [1.51, 1.72], [1.49, 0.0], [1.6, -0.32], [1.77, -1.5],
  [1.89, 3.81], [1.96, -0.86], [1.76, 0.43], [1.72, 1.0],
  [2.5, 4.3], [2.58, 4.08], [2.72, 3.8], [2.9, 3.72], [3.07, 3.72], [3.16, 3.44], [3.3, 3.55], [3.38, 3.2],
  [2.99, 3.0], [3.03, 2.47], [2.94, 2.04], [2.99, 1.6], [3.24, 1.0], [2.85, 2.8], [3.1, 2.9], [3.25, 3.0],
  [3.3, 2.6], [3.2, 2.3], [3.35, 2.0], [3.39, 0.75], [3.16, 0.0], [3.19, 0.12], [2.85, -0.15], [2.8, 0.4],
  [2.75, 1.0], [2.8, 1.6], [2.7, 2.2], [3.1, 3.3], [2.85, 3.3], [3.0, 3.5], [2.78, 2.5]
];

const panels = [
  [trieste002Cols, trieste002Fill, trieste002Pts], [trieste006Cols, trieste006Fill, trieste006Pts],
  [trieste01Cols, trieste01Fill, trieste01Pts], [trento002Cols, trento002Fill, trento002Pts],
  [trento006Cols, trento006Fill, trento006Pts], [trento01Cols, trento01Fill, trento01Pts],
  [palermo002Cols, palermo002Fill, palermo002Pts], [palermo006Cols, palermo006Fill, palermo006Pts],
  [palermo01Cols, palermo01Fill, palermo01Pts]
];

// layout of the 3x3 grid (the right column runs past the window edge)
const colLeft = [45, 301.3, 557.7];
const rowTop = [50.7, 306.7, 562.3];
const plotW = 154, plotH = 102.6;

const svg = d3.select("#chart");

panels.forEach(([cols, fill, pts], i) => {
  const left = colLeft[i % 3], top = rowTop[Math.floor(i / 3)];
  const g = svg.append("g").attr("transform", `translate(${left},${top})`);

  const x = d3.scaleLinear().domain(xRanges[i]).range([0, plotW]);
  const y = d3.scaleLinear().domain(yRanges[i]).range([plotH, 0]);

  g.append("clipPath").attr("id", "clip" + i)
    .append("rect").attr("width", plotW).attr("height", plotH);

  const data = pts.concat(cols.concat(fill).flatMap(c => c[1].map(v => [c[0], v])));

  g.append("g")
    .attr("clip-path", `url(#clip${i})`)
    .selectAll("circle")
    .data(data)
    .join("circle")
    .attr("cx", d => x(d[0]))
    .attr("cy", d => y(d[1]))
    .attr("r", 3.1)
    .attr("fill", "none")
    .attr("stroke", "#000")
    .attr("stroke-width", 1.4);

  // x axis
  const xa = g.append("g")
    .attr("transform", `translate(0,${plotH})`)
    .call(d3.axisBottom(x).tickValues(xTicks[i]).tickSize(9)
      .tickFormat((d, j) => xTickLabels[i][j]));
  xa.select(".domain").remove();
  xa.selectAll("line").attr("stroke-width", 1.3);
  xa.selectAll("text")
    .attr("y", 30.8).attr("dy", null)
    .attr("font-size", "14.4px");

  // y axis, labels turned parallel to the axis
  const ya = g.append("g")
    .call(d3.axisLeft(y).tickValues(yTicks[i]).tickSize(9)
      .tickFormat((d, j) => yTickLabels[i][j]));
  ya.select(".domain").remove();
  ya.selectAll("line").attr("stroke-width", 1.3);
  ya.selectAll("text")
    .attr("x", null).attr("dy", null)
    .attr("transform", "translate(-20,0) rotate(-90)")
    .attr("text-anchor", "middle")
    .attr("font-size", "14.4px");

  // box
  g.append("rect")
    .attr("width", plotW).attr("height", plotH)
    .attr("fill", "none").attr("stroke", "#000").attr("stroke-width", 1.6);

  // red reference line
  const [x0, x1] = xRanges[i];
  g.append("line")
    .attr("clip-path", `url(#clip${i})`)
    .attr("x1", x(x0)).attr("y1", y(ablineA + ablineB * x0))
    .attr("x2", x(x1)).attr("y2", y(ablineA + ablineB * x1))
    .attr("stroke", "#ff0000").attr("stroke-width", 1.3);

  // title
  g.append("text")
    .attr("x", plotW / 2).attr("y", -27.4)
    .attr("text-anchor", "middle")
    .attr("font-size", "17.3px")
    .attr("font-weight", "bold")
    .text(titles[i]);
});
</script>
</body>
</html>
